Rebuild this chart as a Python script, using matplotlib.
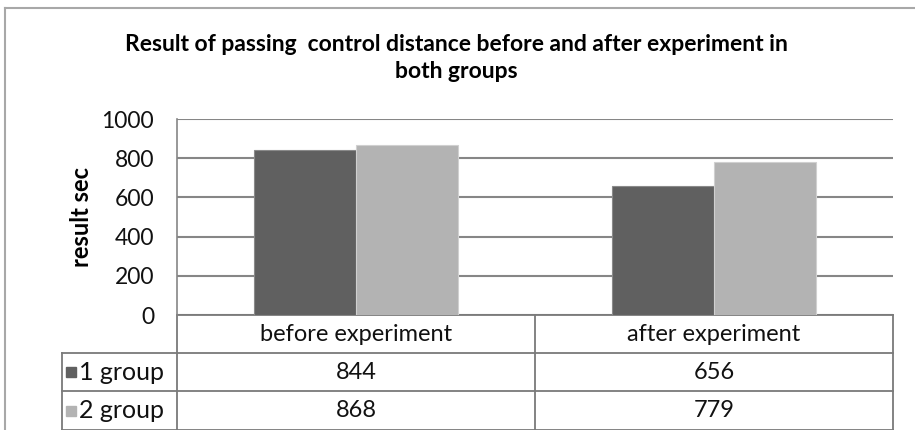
import numpy as np
import matplotlib
matplotlib.use("Agg")
import matplotlib.pyplot as plt
from matplotlib.lines import Line2D
from matplotlib.patches import Rectangle

# data
categories = ["before experiment", "after experiment"]
groups = ["1 group", "2 group"]
group1 = [844, 656]
group2 = [868, 779]
yticks = [0, 200, 400, 600, 800, 1000]

plt.rcParams['font.family'] = ['Lato', 'DejaVu Sans']

dark = '#606060'
light = '#b3b3b3'
gridc = '#868686'

fig = plt.figure(figsize=(9.15, 4.3), dpi=100)
ax = fig.add_axes([177/915, 115/430, 716/915, 196/430])

x = np.arange(len(categories))
w = 0.285
ax.bar(x - w/2, group1, w, color=dark, edgecolor='#8a8a8a', linewidth=0.8, zorder=3)
ax.bar(x + w/2, group2, w, color=light, edgecolor='#d0d0d0', linewidth=0.8, zorder=3)

ax.set_xlim(-0.5, 1.5)
ax.set_ylim(0, 1000)
ax.set_yticks(yticks)
ax.set_xticks([])
ax.tick_params(axis='y', length=0, pad=16.5, labelsize=16.5, labelcolor='#111111')
ax.grid(axis='y', color=gridc, linewidth=1.5, zorder=0)
for s in ['top', 'right', 'bottom']:
    ax.spines[s].set_visible(False)
ax.spines['left'].set_color(gridc)
ax.spines['left'].set_linewidth(1.2)

ax.set_ylabel("result sec", fontsize=17, fontweight='bold', labelpad=6)

# data table under the plot
h = 0.195
xl = -115/716
tc = '#7a7a7a'
T = ax.transAxes
def line(xs, ys):
    ax.add_line(Line2D(xs, ys, transform=T, color=tc, linewidth=1.3, clip_on=False))

line([0, 1], [0, 0])
line([xl, 1], [-h, -h])
line([xl, 1], [-2*h, -2*h])
line([xl, 1], [-3*h, -3*h])
line([0, 0], [0, -3*h])
line([0.5, 0.5], [0, -3*h])
line([1, 1], [0, -3*h])
line([xl, xl], [-h, -3*h])

for i, c in enumerate(categories):
    ax.text(0.25 + 0.5*i, -h/2, c, transform=T, ha='center', va='center', fontsize=17, color='#111111')

for r, (g, vals, col) in enumerate(zip(groups, [group1, group2], [dark, light])):
    yc = -h*(1.5 + r)
    ax.add_patch(Rectangle((xl + 4/716, yc - 5/196), 10/716, 10/196, transform=T,
                           color=col, clip_on=False))
    ax.text(xl + 17/716, yc, g, transform=T, ha='left', va='center', fontsize=18, color='#111111')
    for i, v in enumerate(vals):
        ax.text(0.25 + 0.5*i, yc, str(v), transform=T, ha='center', va='center',
                fontsize=17, color='#111111')

fig.text(0.499, 0.865, "Result of passing  control distance before and after experiment in\nboth groups",
         ha='center', va='center', fontsize=16.5, fontweight='bold', linespacing=1.35)

# outer chart frame
fig.add_artist(Line2D([5/915, 1], [1 - 8/430, 1 - 8/430], transform=fig.transFigure, color='#a8a8a8', linewidth=1.5))
fig.add_artist(Line2D([5/915, 5/915], [0, 1 - 8/430], transform=fig.transFigure, color='#a8a8a8', linewidth=1.5))

fig.savefig("out.png", dpi=100)
